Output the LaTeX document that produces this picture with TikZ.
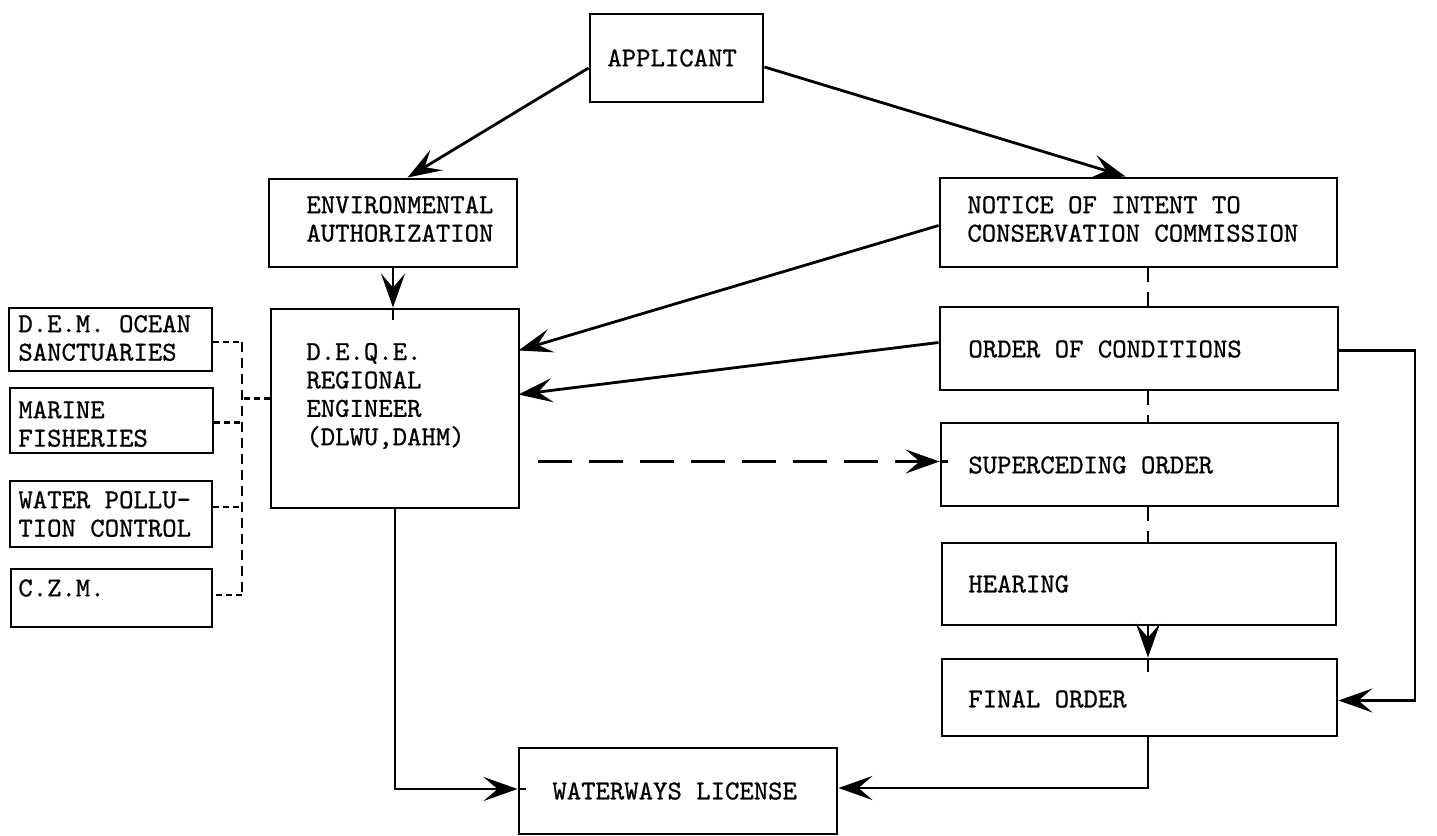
\documentclass[tikz,border=0pt]{standalone}
\usepackage{fontspec}
\newfontfamily\tw{lmmono10-regular.otf}[FakeBold=0.8]
\usetikzlibrary{arrows.meta,fit,calc}
\begin{document}
\begin{tikzpicture}[x=0.5pt,y=-0.5pt,
  box/.style={draw, line width=1.45pt, inner sep=0pt},
  lbox/.style={draw, line width=1.3pt, inner sep=0pt},
  txt/.style={inner sep=0pt, anchor=west, align=left, font=\tw\fontsize{13.7pt}{14.2pt}\selectfont},
  conn/.style={line width=1.4pt},
  arr/.style={conn, -{Stealth[length=17pt,width=12pt,inset=7pt]}},
  darr/.style={arr, dash pattern=on 17pt off 8.5pt},
  vdash/.style={line width=1.4pt, dash pattern=on 7pt off 5pt},
  ldash/.style={line width=1.2pt, dash pattern=on 5pt off 3pt},
  hdash/.style={line width=1.2pt, dash pattern=on 3pt off 2pt}]
\useasboundingbox (0,0) rectangle (1437,836);

% boxes
\node[box, fit={(590,14)(763,102)}] (app) {};
\node[box, fit={(269,179)(517,267)}] (env) {};
\node[box, fit={(940,178)(1337,267)}] (notice) {};
\node[box, fit={(940,307)(1338,390)}] (order) {};
\node[box, fit={(941,423)(1338,506)}] (super) {};
\node[box, fit={(942,543)(1336,625)}] (hearing) {};
\node[box, fit={(942,659)(1337,736)}] (final) {};
\node[box, fit={(519,748)(837,834)}] (ways) {};
\node[box, fit={(271,309)(519,508)}] (deqe) {};
\node[lbox, fit={(9,308)(212,371)}] (dem) {};
\node[lbox, fit={(10,388)(213,453)}] (marine) {};
\node[lbox, fit={(10,481)(212,547)}] (water) {};
\node[lbox, fit={(11,569)(212,627)}] (czm) {};

% texts
\node[txt] (appT) at (607,58) {APPLICANT};
\node[txt] (envT) at (306,219) {ENVIRONMENTAL\\AUTHORIZATION};
\node[txt] (noticeT) at (967,219) {NOTICE OF INTENT TO\\CONSERVATION COMMISSION};
\node[txt] (orderT) at (968,349) {ORDER OF CONDITIONS};
\node[txt] (superT) at (968,465) {SUPERCEDING ORDER};
\node[txt] (hearingT) at (968,584) {HEARING};
\node[txt] (finalT) at (968,699) {FINAL ORDER};
\node[txt] (waysT) at (552,791) {WATERWAYS LICENSE};
\node[txt] (deqeT) at (306,396) {D.E.Q.E.\\REGIONAL\\ENGINEER\\(DLWU,DAHM)};
\node[txt] (demT) at (18,338) {D.E.M. OCEAN\\SANCTUARIES};
\node[txt] (marineT) at (18,424) {MARINE\\FISHERIES};
\node[txt] (waterT) at (18,514) {WATER POLLU-\\TION CONTROL};
\node[txt] (czmT) at (18,588) {C.Z.M.};

% helper coordinates
\coordinate (vx) at (1148,0);
\coordinate (rx) at (1415,0);
\coordinate (bt) at (242,342);
\coordinate (bb) at (242,595);

% applicant arrows
\draw[arr] ($(app.west)+(0,10)$) -- ($(env.north west)+(140,0)$);
\draw[arr] ($(app.east)+(0,9)$) -- ($(notice.north west)+(187,0)$);

% env -> deqe
\draw[arr] (env.south) -- (env.south |- deqe.north);
\draw[conn] (env.south |- deqe.north) -- ++(0,12);

% notice / order -> deqe
\draw[arr] ($(notice.west)+(0,3)$) -- ($(deqe.east)+(-2,-58)$);
\draw[arr] ($(order.west)+(0,-6)$) -- ($(deqe.east)+(-2,-14)$);

% deqe -> superceding (dashed)
\draw[darr] ($(deqe.east)+(18,53)$) -- ($(super.west)+(0,-3)$);
\draw[conn] ($(super.west)+(0,-3)$) -- ++(8,0);

% right column dashed links
\draw[vdash] (notice.south -| vx) -- (order.north -| vx);
\draw[vdash] (order.south -| vx) -- (super.north -| vx);
\draw[vdash] (super.south -| vx) -- (hearing.north -| vx);

% hearing -> final
\draw[arr] (hearing.south -| vx) -- (final.north -| vx);
\draw[conn] (final.north -| vx) -- ++(0,14);

% order -> final (right loop)
\draw[arr] ($(order.east)+(0,2)$) coordinate (o1) -- (o1 -| rx) -- ($(final.east -| rx)+(0,3)$) -- ($(final.east)+(0,3)$);

% final -> waterways
\draw[arr] (final.south -| vx) |- ($(ways.east)+(0,-3)$);

% deqe -> waterways
\draw[arr] (deqe.south) |- ($(ways.west)+(0,-2)$);
\draw[conn] ($(ways.west)+(0,-2)$) -- ++(8,0);

% left dashed links
\draw[hdash] (dem.east |- bt) -- (bt);
\draw[ldash] (bt) -- (bb);
\draw[hdash] (bb) -- (czm.east |- bb);
\draw[hdash] ($(marine.east)+(0,2)$) coordinate (m1) -- (m1 -| bt);
\draw[hdash] ($(water.east)+(0,-7)$) coordinate (w1) -- (w1 -| bt);
\draw[hdash] ($(deqe.west)+(0,-10)$) coordinate (d1) -- (d1 -| bt);
\end{tikzpicture}
\end{document}
